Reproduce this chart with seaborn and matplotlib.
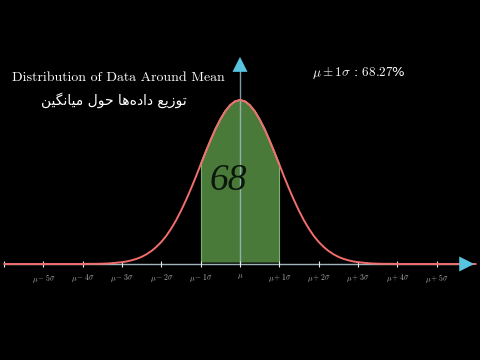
import numpy as np
import pandas as pd
import seaborn as sns
import matplotlib.pyplot as plt

# data: right half of the curve (peak = 1) every 1/8 sigma
half_height = [1.000, 0.992, 0.969, 0.932, 0.882, 0.823, 0.755, 0.682,
               0.607, 0.531, 0.458, 0.389, 0.325, 0.267, 0.216, 0.172,
               0.135, 0.105, 0.080, 0.060, 0.044, 0.032, 0.023, 0.016,
               0.011, 0.008, 0.005, 0.003, 0.002, 0.001, 0.001, 0.001,
               0.000, 0.000, 0.000, 0.000, 0.000, 0.000, 0.000, 0.000,
               0.000, 0.000, 0.000, 0.000, 0.000, 0.000, 0.000, 0.000, 0.000]
curve_height = half_height[::-1] + half_height[1:]   # curve is symmetric
sigma_pos = np.linspace(-6, 6, len(curve_height))
tick_pos = [-5, -4, -3, -2, -1, 0, 1, 2, 3, 4, 5]
tick_labels = [r"$\mu-5\sigma$", r"$\mu-4\sigma$", r"$\mu-3\sigma$", r"$\mu-2\sigma$",
               r"$\mu-1\sigma$", r"$\mu$", r"$\mu+1\sigma$", r"$\mu+2\sigma$",
               r"$\mu+3\sigma$", r"$\mu+4\sigma$", r"$\mu+5\sigma$"]
pct_label = r"$\mu \pm 1\sigma$ : $68.27$%"
big_number = "68"
title_en = "Distribution of Data Around Mean"
# Persian title, letters written in their joined forms, left-to-right visual order
title_fa = ("\uFEE6\uFBFF\uFB95\uFEE7\uFE8E\uFBFF\uFEE3" + " " +
            "\uFEDD\uFEEE\uFEA3" + " " +
            "\uFE8E\uFEEB\uFEE9\uFEA9\uFE8D\uFEA9" + " " +
            "\uFECA\uFBFE\uFEAF\uFEEE\uFE97")

df = pd.DataFrame({"x": sigma_pos, "y": curve_height})

sns.set_theme(style="dark")
plt.rcParams["mathtext.fontset"] = "cm"
plt.rcParams["font.family"] = ["DejaVu Sans"]

fig = plt.figure(figsize=(4.8, 3.6), dpi=100, facecolor="black")
ax = fig.add_axes([0, 0, 1, 1])
ax.set_facecolor("black")
ax.set_xlim(-240 / 39.3, 240 / 39.3)
ax.set_ylim(-96 / 164, 264 / 164)
ax.axis("off")

# shaded band +-1 sigma
band = df[(df.x >= -1) & (df.x <= 1)]
ax.fill_between(band.x, 0.012, band.y, color="#4a7a39", lw=0, zorder=1)
ax.plot(band.x, band.y, color="#b8dca0", lw=1.2, zorder=4)
ax.vlines([-1, 1], 0.012, [band.y.iloc[0], band.y.iloc[-1]], color="#7fb066", lw=0.8, zorder=2)

# axes lines
ax.plot([-6.0, 5.9], [0, 0], color="#9fb4bc", lw=1.0, zorder=2)
ax.plot([0, 0], [0, 1.2], color="#9fc0c8", lw=1.0, alpha=0.8, zorder=3)
ax.scatter([-6] + tick_pos, [0] * (len(tick_pos) + 1), marker="|", s=25,
           color="#e8e8e8", linewidths=0.8, zorder=3)
ax.annotate("", xy=(6.03, 0), xytext=(5.7, 0),
            arrowprops=dict(arrowstyle="-|>,head_length=0.9,head_width=0.45",
                            color="#58c4dd", lw=0, mutation_scale=12), zorder=6)
ax.annotate("", xy=(0, 1.28), xytext=(0, 1.19),
            arrowprops=dict(arrowstyle="-|>,head_length=0.9,head_width=0.45",
                            color="#58c4dd", lw=0, mutation_scale=12), zorder=6)

# the bell curve
sns.lineplot(data=df, x="x", y="y", color="#f26d6d", lw=1.4, ax=ax, zorder=5)
ax.set_xlabel("")
ax.set_ylabel("")

for p, lab in zip(tick_pos, tick_labels):
    ax.annotate(lab, (p, 0), xytext=(0, -6), textcoords="offset points",
                ha="center", va="top", fontsize=5.5, color="#b0b0b0")

ax.text(-0.3, 0.51, big_number, fontsize=27, family="Liberation Serif",
        style="italic", color="#0a170a", ha="center", va="center", zorder=7)

fig.text(118 / 480, 1 - 78 / 360, title_en, family="cmr10", fontsize=10,
         color="white", ha="center", va="center")
fig.text(114 / 480, 1 - 100 / 360, title_fa, family=["DejaVu Sans"], fontsize=10,
         color="white", ha="center", va="center")
fig.text(312 / 480, 1 - 73 / 360, pct_label, fontsize=9.5, color="white",
         ha="left", va="center")

fig.savefig("out.png", dpi=100, facecolor="black")
